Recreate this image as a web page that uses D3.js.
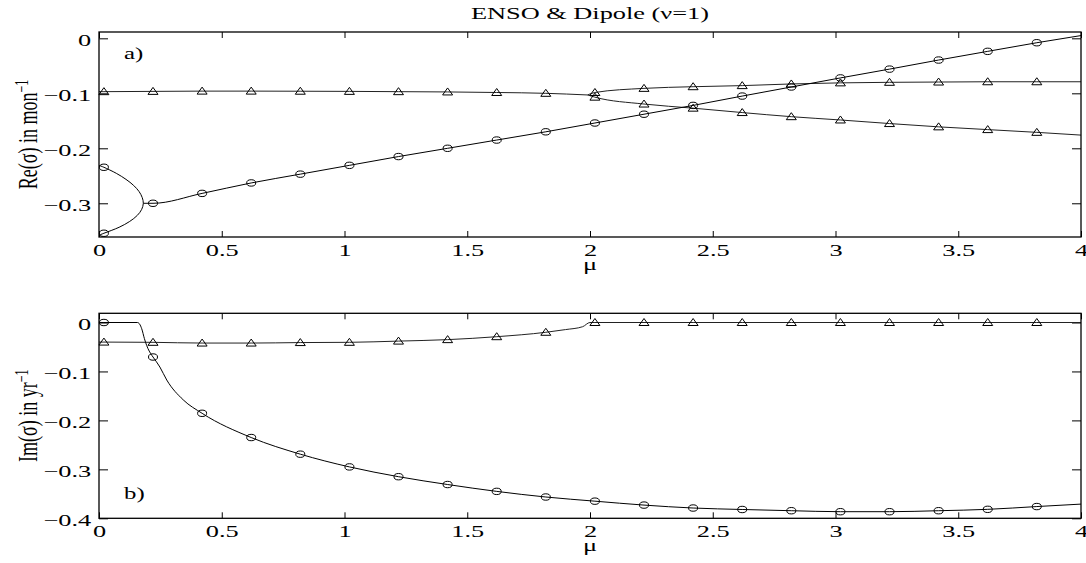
<!DOCTYPE html>
<html>
<head>
<meta charset="utf-8">
<script src="https://cdn.jsdelivr.net/npm/d3@7"></script>
<style>
  body { margin: 0; background: #fff; }
  svg text { font-family: "Liberation Serif", "Times New Roman", serif; fill: #000; }
</style>
</head>
<body>
<div id="container"></div>
<script>
// tick values
const muTicks = [0, 0.5, 1, 1.5, 2, 2.5, 3, 3.5, 4]
const reTicks = [-0.3, -0.2, -0.1, 0]
const imTicks = [-0.4, -0.3, -0.2, -0.1, 0]

// mu values where a marker is drawn
const markerMu = [0.02, 0.22, 0.42, 0.62, 0.82, 1.02, 1.22, 1.42, 1.62, 1.82,
    2.02, 2.22, 2.42, 2.62, 2.82, 3.02, 3.22, 3.42, 3.62, 3.82]

// a) Re(sigma): triangle mode before the split
const reTriMu = [0, 0.02, 0.22, 0.42, 0.62, 0.82, 1.02, 1.22, 1.42, 1.62, 1.82, 1.99]
const reTri = [-0.097, -0.097, -0.0965, -0.096, -0.096, -0.0962, -0.0965, -0.097, -0.0975, -0.0985, -0.1, -0.103]
// triangle mode, upper and lower branch after the split
const reTriUpMu = [1.99, 2.02, 2.22, 2.42, 2.62, 2.82, 3.02, 3.22, 3.42, 3.62, 3.82, 4]
const reTriUp = [-0.103, -0.0985, -0.091, -0.088, -0.086, -0.083, -0.081, -0.08, -0.0795, -0.079, -0.079, -0.079]
const reTriLoMu = [1.99, 2.02, 2.22, 2.42, 2.62, 2.82, 3.02, 3.22, 3.42, 3.62, 3.82, 4]
const reTriLo = [-0.103, -0.107, -0.1195, -0.127, -0.135, -0.1425, -0.1485, -0.155, -0.161, -0.166, -0.171, -0.176]
// circle mode: the two real roots that merge near mu=0.18 (upper root, tip, lower root)
const reCircSplitMu = [0, 0.02, 0.0705, 0.11, 0.141, 0.163, 0.176, 0.1805, 0.174, 0.156, 0.125, 0.082, 0.02, 0]
const reCircSplit = [-0.231, -0.2345, -0.2455, -0.2565, -0.2675, -0.2785, -0.2895, -0.3, -0.311, -0.322, -0.333, -0.3436, -0.3545, -0.358]
// circle mode after merging
const reCircMu = [0.1805, 0.22, 0.42, 0.62, 0.82, 1.02, 1.22, 1.42, 1.62, 1.82, 2.02,
    2.22, 2.42, 2.62, 2.82, 3.02, 3.22, 3.42, 3.62, 3.82, 4]
const reCirc = [-0.3, -0.3, -0.282, -0.263, -0.247, -0.231, -0.215, -0.2, -0.185, -0.17, -0.154,
    -0.138, -0.122, -0.105, -0.0885, -0.072, -0.056, -0.0395, -0.0237, -0.008, 0.005]

// b) Im(sigma)
const imTriMu = [0, 0.02, 0.22, 0.42, 0.62, 0.82, 1.02, 1.22, 1.42, 1.62, 1.82, 1.9, 1.97, 2,
    2.02, 2.22, 2.42, 2.62, 2.82, 3.02, 3.22, 3.42, 3.62, 3.82, 4]
const imTri = [-0.04, -0.04, -0.0405, -0.042, -0.042, -0.041, -0.0405, -0.038, -0.035, -0.029, -0.02, -0.0145, -0.0086, 0,
    0, 0, 0, 0, 0, 0, 0, 0, 0, 0, 0]
const imCircMu = [0, 0.02, 0.157, 0.174, 0.185, 0.194, 0.215, 0.22, 0.248, 0.276, 0.343, 0.42, 0.62, 0.82, 1.02,
    1.22, 1.42, 1.62, 1.82, 2.02, 2.22, 2.42, 2.62, 2.82, 3.02, 3.22, 3.42, 3.62, 3.82, 4]
const imCirc = [0, 0, 0, -0.0127, -0.033, -0.0466, -0.067, -0.0705, -0.091, -0.1175, -0.158, -0.1855, -0.235, -0.269, -0.295,
    -0.315, -0.331, -0.345, -0.3565, -0.365, -0.373, -0.379, -0.382, -0.3845, -0.3865, -0.3865, -0.3845, -0.3817, -0.376, -0.371]

//BOX
const w = 1086
const h = 563
const left = 99
const right = 1081
const sx = 1.55 // text in the picture is stretched sideways

const svg = d3.select('#container')
    .append('svg')
    .attr('width', w)
    .attr('height', h)

const xscale = d3.scaleLinear().domain([0, 4]).range([left, right])

const zip = (mu, v) => mu.map((m, i) => [m, v[i]])

const panels = [
    {
        id: 'a', top: 32, bottom: 237, domain: [-0.3613, 0.0115], ticks: reTicks,
        label: ['Re(σ) in mon', '−1'], tag: 'a)', tagY: 59,
        series: [
            { pts: zip(reTriMu, reTri), mark: 'tri', curve: d3.curveMonotoneX },
            { pts: zip(reTriUpMu, reTriUp), mark: 'tri', curve: d3.curveMonotoneX },
            { pts: zip(reTriLoMu, reTriLo), mark: 'tri', curve: d3.curveMonotoneX },
            { pts: zip(reCircSplitMu, reCircSplit), mark: 'circ', curve: d3.curveCatmullRom },
            { pts: zip(reCircMu, reCirc), mark: 'circ', curve: d3.curveMonotoneX }
        ]
    },
    {
        id: 'b', top: 313.3, bottom: 518.3, domain: [-0.4, 0.0188], ticks: imTicks,
        label: ['Im(σ) in yr', '−1'], tag: 'b)', tagY: 499,
        series: [
            { pts: zip(imTriMu, imTri), mark: 'tri', curve: d3.curveMonotoneX },
            { pts: zip(imCircMu, imCirc), mark: 'circ', curve: d3.curveMonotoneX }
        ]
    }
]

const isMarker = m => markerMu.some(k => Math.abs(k - m) < 1e-9)
const yfmt = d => d === 0 ? '0' : d3.format('.1f')(d)

//TITLE
svg.append('text')
    .attr('transform', 'translate(590,19) scale(' + sx + ',1)')
    .attr('text-anchor', 'middle')
    .style('font-size', '17px')
    .text('ENSO & Dipole (ν=1)')

panels.forEach(p => {
    const yscale = d3.scaleLinear().domain(p.domain).range([p.bottom, p.top])
    const g = svg.append('g').attr('id', 'panel-' + p.id)

    g.append('clipPath')
        .attr('id', 'clip-' + p.id)
        .append('rect')
        .attr('x', left)
        .attr('y', p.top)
        .attr('width', right - left)
        .attr('height', p.bottom - p.top)

    //AXES (ticks point inwards, box drawn separately)
    const xaxis = d3.axisBottom(xscale).tickValues(muTicks).tickFormat(d => String(d))
        .tickSizeInner(-6).tickSizeOuter(0).tickPadding(7)
    const xaxisTop = d3.axisTop(xscale).tickValues(muTicks).tickFormat('')
        .tickSizeInner(-6).tickSizeOuter(0)
    const yaxis = d3.axisLeft(yscale).tickValues(p.ticks).tickFormat(yfmt)
        .tickSizeInner(-9).tickSizeOuter(0).tickPadding(5)
    const yaxisRight = d3.axisRight(yscale).tickValues(p.ticks).tickFormat('')
        .tickSizeInner(-9).tickSizeOuter(0)

    const axes = [
        [xaxis, 'translate(0,' + p.bottom + ')'],
        [xaxisTop, 'translate(0,' + p.top + ')'],
        [yaxis, 'translate(' + left + ',0)'],
        [yaxisRight, 'translate(' + right + ',0)']
    ]
    axes.forEach(a => {
        const ag = g.append('g').attr('transform', a[1]).call(a[0])
        ag.select('.domain').remove()
        ag.selectAll('line').attr('stroke', '#000').attr('stroke-width', 1)
        ag.selectAll('text')
            .attr('fill', '#000')
            .style('font-size', '17px')
            .style('font-family', '"Liberation Serif", "Times New Roman", serif')
            .attr('transform', 'scale(' + sx + ',1)')
    })
    g.selectAll('text[dy="0.32em"]').attr('dy', '0.4em')

    //LINES
    const line = d3.line().x(d => xscale(d[0])).y(d => yscale(d[1]))
    const lines = g.append('g').attr('clip-path', 'url(#clip-' + p.id + ')')
    p.series.forEach(s => {
        lines.append('path')
            .attr('d', line.curve(s.curve)(s.pts))
            .attr('fill', 'none')
            .attr('stroke', s.mark === 'tri' ? '#222' : '#000')
            .attr('stroke-width', 1)
    })

    //MARKERS
    p.series.forEach(s => {
        const pts = s.pts.filter(d => isMarker(d[0]))
        if (s.mark === 'circ') {
            g.append('g').selectAll('ellipse')
                .data(pts)
                .enter()
                .append('ellipse')
                .attr('cx', d => xscale(d[0]))
                .attr('cy', d => yscale(d[1]))
                .attr('rx', 4.5)
                .attr('ry', 3.2)
                .attr('fill', 'none')
                .attr('stroke', '#000')
                .attr('stroke-width', 1)
        } else {
            g.append('g').selectAll('path')
                .data(pts)
                .enter()
                .append('path')
                .attr('d', d => {
                    const cx = xscale(d[0]), cy = yscale(d[1])
                    return 'M' + cx + ',' + (cy - 4) + 'L' + (cx + 5) + ',' + (cy + 3) + 'L' + (cx - 5) + ',' + (cy + 3) + 'Z'
                })
                .attr('fill', 'none')
                .attr('stroke', '#000')
                .attr('stroke-width', 1)
        }
    })

    //BOX
    g.append('rect')
        .attr('x', left)
        .attr('y', p.top)
        .attr('width', right - left)
        .attr('height', p.bottom - p.top)
        .attr('fill', 'none')
        .attr('stroke', '#000')
        .attr('stroke-width', 1.3)

    //LABELS
    g.append('text')
        .attr('transform', 'translate(590,' + (p.bottom + 33) + ') scale(' + sx + ',1)')
        .attr('text-anchor', 'middle')
        .style('font-size', '17px')
        .text('μ')

    const yl = g.append('text')
        .attr('transform', 'translate(37,' + (p.top + p.bottom) / 2 + ') scale(' + sx + ',1) rotate(-90)')
        .attr('text-anchor', 'middle')
        .style('font-size', '18px')
    yl.append('tspan').text(p.label[0])
    yl.append('tspan').attr('dy', '-0.5em').style('font-size', '12px').text(p.label[1])

    g.append('text')
        .attr('transform', 'translate(124,' + p.tagY + ') scale(' + sx + ',1)')
        .style('font-size', '16px')
        .text(p.tag)
})
</script>
</body>
</html>
